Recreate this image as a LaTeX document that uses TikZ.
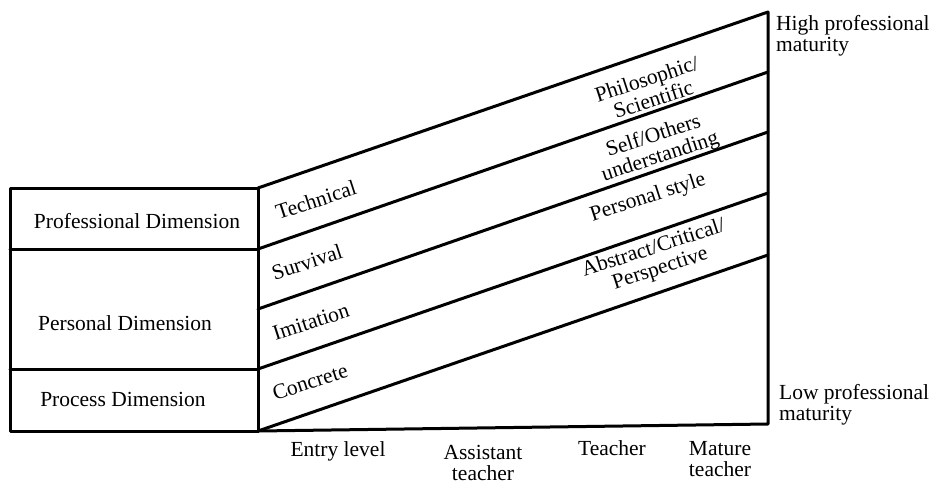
\documentclass[tikz,border=0pt]{standalone}
\usepackage{fontspec}
\setmainfont{Liberation Serif}
\begin{document}
\begin{tikzpicture}[x=1pt,y=-1pt,
  frame/.style={line width=3pt,line cap=round,line join=round},
  lbl/.style={font=\fontsize{21.5}{21.5}\selectfont,inner sep=0pt,align=center},
  band/.style={lbl,rotate=18},
  side/.style={lbl,align=left,anchor=north west}]
\useasboundingbox (0,0) rectangle (939,485);

% left table of dimensions
\coordinate (tl) at (10,188);
\coordinate (tr) at (258,188);
\coordinate (bl) at (10,431);
\coordinate (br) at (258,431);
\coordinate (m1l) at (10,249);
\coordinate (m1r) at (258,249);
\coordinate (m2l) at (10,369);
\coordinate (m2r) at (258,369);
\draw[frame] (tl) -- (tr) -- (br) -- (bl) -- cycle;
\draw[frame] (m1l) -- (m1r);
\draw[frame] (m2l) -- (m2r);

\node[lbl] (prof) at (137,221) {Professional Dimension};
\node[lbl] (pers) at (125,323) {Personal Dimension};
\node[lbl] (proc) at (123,399) {Process Dimension};

% sloping bands towards professional maturity
\coordinate (r0) at (768,12);
\coordinate (r1) at (768,72);
\coordinate (r2) at (768,132);
\coordinate (r3) at (768,193);
\coordinate (r4) at (768,255);
\coordinate (rb) at (768,424);
\coordinate (l2) at (258,309);
\draw[frame] (tr) -- (r0) -- (rb) -- (br);
\draw[frame] (m1r) -- (r1);
\draw[frame] (l2) -- (r2);
\draw[frame] (m2r) -- (r3);
\draw[frame] (br) -- (r4);

\node[band] (tech) at (316,200) {Technical};
\node[band] (surv) at (307,262) {Survival};
\node[band] (imit) at (311,322) {Imitation};
\node[band] (conc) at (310,382) {Concrete};

\node[band] (phil) at (650,89) {Philosophic/\\Scientific};
\node[band] (self) at (657,147) {Self/Others\\understanding};
\node[band] (pstyle) at (648,198) {Personal style};
\node[band] (abst) at (657,259) {Abstract/Critical/\\Perspective};

% maturity scale
\node[side] (high) at (776,15) {High professional\\maturity};
\node[side] (low) at (779,384) {Low professional\\maturity};

% career stages
\node[lbl,anchor=north] (entry) at (338,441) {Entry level};
\node[lbl,anchor=north] (assist) at (483,445) {Assistant\\teacher};
\node[lbl,anchor=north] (teach) at (612,440) {Teacher};
\node[lbl,anchor=north] (mature) at (720,441) {Mature\\teacher};
\end{tikzpicture}
\end{document}
